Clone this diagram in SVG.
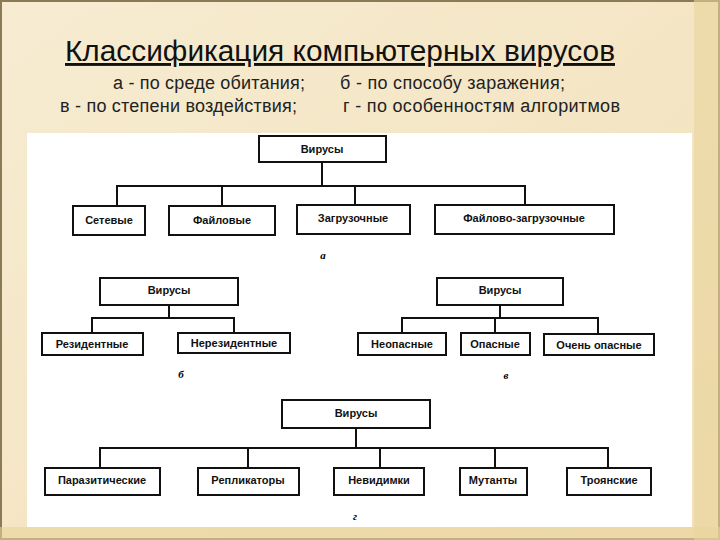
<svg xmlns="http://www.w3.org/2000/svg" width="720" height="540" viewBox="0 0 720 540">
<defs>
<linearGradient id="bg" x1="0" y1="0" x2="1" y2="1">
<stop offset="0" stop-color="#f7ecd2"/><stop offset="1" stop-color="#f1e0b8"/>
</linearGradient>
</defs>
<style>
.b{fill:#fff;stroke:#111;stroke-width:2}
.t{font-family:"Liberation Sans",Arial,sans-serif;font-size:11px;font-weight:bold;text-anchor:middle;fill:#111}
.l{fill:none;stroke:#111;stroke-width:2}
.s{font-family:"Liberation Sans",Arial,sans-serif;font-size:18px;fill:#222}
.g{font-family:"Liberation Serif",serif;font-size:11px;font-style:italic;font-weight:bold;text-anchor:middle}
</style>
<rect width="720" height="540" fill="url(#bg)"/>
<rect x="1" y="1" width="718" height="538" fill="none" stroke="#8a7a55" stroke-width="2"/>
<rect x="694" y="0" width="26" height="540" fill="#ead49b" opacity="0.6"/>
<rect x="0" y="527" width="720" height="13" fill="#ead49b" opacity="0.6"/>
<text x="65" y="61" font-family="'Liberation Sans',Arial,sans-serif" font-size="29" fill="#111" text-decoration="underline" textLength="550" lengthAdjust="spacingAndGlyphs">Классификация компьютерных вирусов</text>
<text class="s" x="113" y="89" textLength="192">а - по среде обитания;</text>
<text class="s" x="340" y="89" textLength="225">б - по способу заражения;</text>
<text class="s" x="60" y="112" textLength="237">в - по степени воздействия;</text>
<text class="s" x="343" y="112" textLength="277">г - по особенностям алгоритмов</text>
<rect x="27" y="133" width="665" height="394" fill="#fff"/>
<g id="connectors">
<path class="l" d="M322 162V186M117 205V186H525V205M222 186V205M355 186V205"/>
<path class="l" d="M169 305V318M92 333V318H234V333"/>
<path class="l" d="M500 305V318M402 333V318H598V333M495 318V333"/>
<path class="l" d="M356 428V448M100 468V448H608V468M248 448V468M380 448V468M495 448V468"/>
</g>
<g id="a-root"><rect class="b" x="259" y="136" width="127" height="26"/><text class="t" x="322" y="153">Вирусы</text></g>
<g id="a1"><rect class="b" x="73" y="206" width="72" height="29"/><text class="t" x="109" y="224">Сетевые</text></g>
<g id="a2"><rect class="b" x="169" y="206" width="106" height="29"/><text class="t" x="222" y="224">Файловые</text></g>
<g id="a3"><rect class="b" x="297" y="205" width="113" height="29"/><text class="t" x="353" y="222">Загрузочные</text></g>
<g id="a4"><rect class="b" x="435" y="205" width="179" height="29"/><text class="t" x="524" y="222">Файлово-загрузочные</text></g>
<text class="g" x="323" y="259">а</text>
<g id="b-root"><rect class="b" x="100" y="278" width="138" height="27"/><text class="t" x="169" y="294">Вирусы</text></g>
<g id="b1"><rect class="b" x="42" y="333" width="101" height="22"/><text class="t" x="92" y="348">Резидентные</text></g>
<g id="b2"><rect class="b" x="178" y="333" width="112" height="20"/><text class="t" x="234" y="347">Нерезидентные</text></g>
<text class="g" x="181" y="378">б</text>
<g id="c-root"><rect class="b" x="437" y="278" width="126" height="27"/><text class="t" x="500" y="294">Вирусы</text></g>
<g id="c1"><rect class="b" x="358" y="333" width="88" height="22"/><text class="t" x="402" y="348">Неопасные</text></g>
<g id="c2"><rect class="b" x="461" y="333" width="69" height="22"/><text class="t" x="495" y="348">Опасные</text></g>
<g id="c3"><rect class="b" x="544" y="334" width="110" height="21"/><text class="t" x="599" y="349">Очень опасные</text></g>
<text class="g" x="506" y="379">в</text>
<g id="d-root"><rect class="b" x="282" y="400" width="148" height="28"/><text class="t" x="356" y="417">Вирусы</text></g>
<g id="d1"><rect class="b" x="45" y="468" width="115" height="27"/><text class="t" x="102" y="484">Паразитические</text></g>
<g id="d2"><rect class="b" x="198" y="468" width="101" height="27"/><text class="t" x="248" y="484">Репликаторы</text></g>
<g id="d3"><rect class="b" x="334" y="468" width="90" height="27"/><text class="t" x="379" y="484">Невидимки</text></g>
<g id="d4"><rect class="b" x="460" y="468" width="67" height="27"/><text class="t" x="493" y="484">Мутанты</text></g>
<g id="d5"><rect class="b" x="567" y="468" width="84" height="27"/><text class="t" x="609" y="484">Троянские</text></g>
<text class="g" x="355" y="520">г</text>
</svg>
